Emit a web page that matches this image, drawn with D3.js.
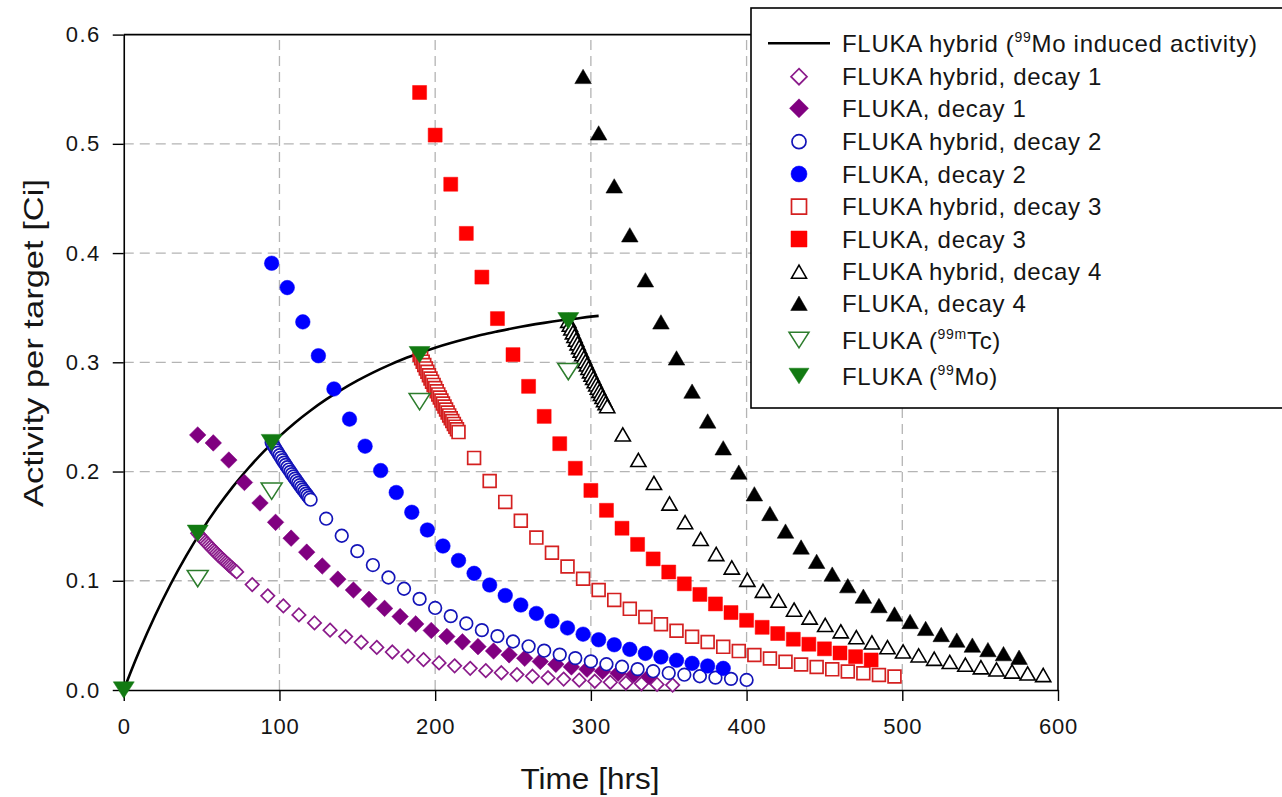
<!DOCTYPE html>
<html>
<head>
<meta charset="utf-8">
<script src="https://cdn.jsdelivr.net/npm/d3@7"></script>
<style>
  body { margin: 0; background: #fff; }
  svg { display: block; }
  text { font-family: "Liberation Sans", Arial, sans-serif; fill: #151515; }
</style>
</head>
<body>
<svg id="chart" width="1282" height="797"></svg>
<script>
// ---- Data: time [hrs] and activity per target [Ci] ----

// 99Mo induced activity during irradiation (FLUKA hybrid)
const buildupTime = [0, 5, 10, 20, 30, 40, 50, 60, 70, 80, 90, 100, 110, 120, 130, 140, 150, 160, 170, 180, 190, 200, 210, 220, 230, 240, 250, 260, 270, 280, 290, 300, 305];
const buildupActivity = [0, 0.0183, 0.0356, 0.0677, 0.0966, 0.1226, 0.1459, 0.1670, 0.1860, 0.2030, 0.2184, 0.2322, 0.2447, 0.2559, 0.2660, 0.2750, 0.2832, 0.2906, 0.2972, 0.3032, 0.3085, 0.3134, 0.3177, 0.3216, 0.3252, 0.3283, 0.3312, 0.3338, 0.3361, 0.3382, 0.3400, 0.3418, 0.3425];

// FLUKA hybrid, decay 1
const hybrid1Time = [47.5, 48.5, 49.5, 50.5, 51.5, 52.5, 53.5, 54.5, 55.5, 56.5, 57.5, 58.5, 59.5, 60.5, 61.5, 62.5, 63.5, 64.5, 65.5, 66.5, 67.5, 68.5, 69.5, 70.5, 71.5, 72.5,
  82.5, 92.5, 102.5, 112.5, 122.5, 132.5, 142.5, 152.5, 162.5, 172.5, 182.5, 192.5, 202.5, 212.5, 222.5, 232.5, 242.5, 252.5, 262.5, 272.5, 282.5, 292.5, 302.5, 312.5, 322.5, 332.5, 342.5, 352.5];
const hybrid1Activity = [0.1435, 0.1419, 0.1403, 0.1387, 0.1371, 0.1356, 0.1341, 0.1326, 0.1311, 0.1296, 0.1281, 0.1267, 0.1253, 0.1238, 0.1224, 0.1211, 0.1197, 0.1184, 0.1170, 0.1157, 0.1144, 0.1131, 0.1118, 0.1106, 0.1093, 0.1081,
  0.0965, 0.0862, 0.0770, 0.0687, 0.0614, 0.0548, 0.0489, 0.0437, 0.0390, 0.0348, 0.0311, 0.0278, 0.0248, 0.0221, 0.0198, 0.0177, 0.0158, 0.0141, 0.0126, 0.0112, 0.0100, 0.0090, 0.0080, 0.0071, 0.0064, 0.0057, 0.0051, 0.0045];

// FLUKA, decay 1
const fluka1Time = [47.5, 57.5, 67.5, 77.5, 87.5, 97.5, 107.5, 117.5, 127.5, 137.5, 147.5, 157.5, 167.5, 177.5, 187.5, 197.5, 207.5, 217.5, 227.5, 237.5, 247.5, 257.5, 267.5, 277.5, 287.5, 297.5, 307.5, 317.5, 327.5, 337.5];
const fluka1Activity = [0.2335, 0.2262, 0.2105, 0.1900, 0.1712, 0.1535, 0.1390, 0.1262, 0.1135, 0.1015, 0.0915, 0.0830, 0.0747, 0.0672, 0.0605, 0.0545, 0.0490, 0.0441, 0.0397, 0.0357, 0.0322, 0.0290, 0.0261, 0.0235, 0.0211, 0.0190, 0.0171, 0.0154, 0.0139, 0.0125];

// FLUKA hybrid, decay 2
const hybrid2Time = [95, 96, 97, 98, 99, 100, 101, 102, 103, 104, 105, 106, 107, 108, 109, 110, 111, 112, 113, 114, 115, 116, 117, 118, 119, 120,
  130, 140, 150, 160, 170, 180, 190, 200, 210, 220, 230, 240, 250, 260, 270, 280, 290, 300, 310, 320, 330, 340, 350, 360, 370, 380, 390, 400];
const hybrid2Activity = [0.2265, 0.2241, 0.2218, 0.2195, 0.2172, 0.2149, 0.2127, 0.2104, 0.2082, 0.2061, 0.2039, 0.2018, 0.1997, 0.1976, 0.1955, 0.1935, 0.1915, 0.1895, 0.1875, 0.1855, 0.1836, 0.1817, 0.1798, 0.1779, 0.1760, 0.1742,
  0.1568, 0.1412, 0.1271, 0.1144, 0.1030, 0.0927, 0.0834, 0.0751, 0.0676, 0.0609, 0.0548, 0.0493, 0.0444, 0.0400, 0.0360, 0.0324, 0.0292, 0.0262, 0.0236, 0.0213, 0.0191, 0.0172, 0.0155, 0.0140, 0.0126, 0.0113, 0.0102, 0.0092];

// FLUKA, decay 2
const fluka2Time = [95, 105, 115, 125, 135, 145, 155, 165, 175, 185, 195, 205, 215, 225, 235, 245, 255, 265, 275, 285, 295, 305, 315, 325, 335, 345, 355, 365, 375, 385];
const fluka2Activity = [0.3907, 0.3684, 0.3370, 0.3060, 0.2756, 0.2480, 0.2232, 0.2009, 0.1808, 0.1627, 0.1465, 0.1318, 0.1186, 0.1068, 0.0961, 0.0865, 0.0778, 0.0701, 0.0631, 0.0568, 0.0511, 0.0460, 0.0414, 0.0372, 0.0335, 0.0302, 0.0272, 0.0244, 0.0220, 0.0198];

// FLUKA hybrid, decay 3
const hybrid3Time = [190, 191, 192, 193, 194, 195, 196, 197, 198, 199, 200, 201, 202, 203, 204, 205, 206, 207, 208, 209, 210, 211, 212, 213, 214, 215,
  225, 235, 245, 255, 265, 275, 285, 295, 305, 315, 325, 335, 345, 355, 365, 375, 385, 395, 405, 415, 425, 435, 445, 455, 465, 475, 485, 495];
const hybrid3Activity = [0.3070, 0.3038, 0.3006, 0.2975, 0.2944, 0.2913, 0.2882, 0.2852, 0.2823, 0.2793, 0.2764, 0.2735, 0.2706, 0.2678, 0.2650, 0.2622, 0.2595, 0.2568, 0.2541, 0.2514, 0.2488, 0.2462, 0.2436, 0.2411, 0.2386, 0.2361,
  0.2125, 0.1913, 0.1722, 0.1550, 0.1395, 0.1256, 0.1131, 0.1018, 0.0916, 0.0825, 0.0743, 0.0668, 0.0602, 0.0542, 0.0488, 0.0439, 0.0395, 0.0356, 0.0320, 0.0288, 0.0259, 0.0233, 0.0210, 0.0189, 0.0170, 0.0153, 0.0138, 0.0124];

// FLUKA, decay 3
const fluka3Time = [190, 200, 210, 220, 230, 240, 250, 260, 270, 280, 290, 300, 310, 320, 330, 340, 350, 360, 370, 380, 390, 400, 410, 420, 430, 440, 450, 460, 470, 480];
const fluka3Activity = [0.547, 0.508, 0.463, 0.418, 0.378, 0.340, 0.307, 0.278, 0.2505, 0.2255, 0.2030, 0.1827, 0.1645, 0.1481, 0.1333, 0.1200, 0.1080, 0.0972, 0.0875, 0.0788, 0.0709, 0.0638, 0.0574, 0.0517, 0.0465, 0.0419, 0.0377, 0.0339, 0.0305, 0.0275];

// FLUKA hybrid, decay 4
const hybrid4Time = [285.5, 286.5, 287.5, 288.5, 289.5, 290.5, 291.5, 292.5, 293.5, 294.5, 295.5, 296.5, 297.5, 298.5, 299.5, 300.5, 301.5, 302.5, 303.5, 304.5, 305.5, 306.5, 307.5, 308.5, 309.5, 310.5,
  320.5, 330.5, 340.5, 350.5, 360.5, 370.5, 380.5, 390.5, 400.5, 410.5, 420.5, 430.5, 440.5, 450.5, 460.5, 470.5, 480.5, 490.5, 500.5, 510.5, 520.5, 530.5, 540.5, 550.5, 560.5, 570.5, 580.5, 590.5];
const hybrid4Activity = [0.3380, 0.3345, 0.3310, 0.3275, 0.3241, 0.3207, 0.3174, 0.3140, 0.3108, 0.3075, 0.3043, 0.3011, 0.2980, 0.2949, 0.2918, 0.2887, 0.2857, 0.2827, 0.2798, 0.2768, 0.2739, 0.2711, 0.2683, 0.2654, 0.2627, 0.2599,
  0.2340, 0.2106, 0.1896, 0.1707, 0.1537, 0.1383, 0.1245, 0.1121, 0.1009, 0.0908, 0.0818, 0.0736, 0.0663, 0.0596, 0.0537, 0.0483, 0.0435, 0.0392, 0.0353, 0.0317, 0.0286, 0.0257, 0.0232, 0.0208, 0.0188, 0.0169, 0.0152, 0.0137];

// FLUKA, decay 4
const fluka4Time = [295, 305, 315, 325, 335, 345, 355, 365, 375, 385, 395, 405, 415, 425, 435, 445, 455, 465, 475, 485, 495, 505, 515, 525, 535, 545, 555, 565, 575];
const fluka4Activity = [0.5617, 0.5100, 0.4615, 0.4167, 0.3755, 0.3370, 0.3040, 0.2736, 0.2463, 0.2217, 0.1995, 0.1796, 0.1616, 0.1455, 0.1309, 0.1178, 0.1061, 0.0955, 0.0859, 0.0773, 0.0696, 0.0627, 0.0564, 0.0508, 0.0457, 0.0411, 0.0370, 0.0333, 0.0300];

// FLUKA (99mTc) and FLUKA (99Mo) at end of irradiation
const tcTime = [47.5, 95, 190, 285.5];
const tcActivity = [0.102, 0.182, 0.264, 0.2915];
const moTime = [0, 47.5, 95, 190, 285.5];
const moActivity = [0, 0.1435, 0.2265, 0.307, 0.338];

// Axis ticks
const xTicks = [0, 100, 200, 300, 400, 500, 600];
const yTicks = [0, 0.1, 0.2, 0.3, 0.4, 0.5, 0.6];

// ---- Chart ----
const svg = d3.select("#chart");
const x = d3.scaleLinear().domain([0, 600]).range([123.75, 1058]);
const y = d3.scaleLinear().domain([0, 0.6]).range([690, 34.6]);

// Marker path builders (centred on 0,0)
const shapes = {
  diamond: r => `M0,${-r}L${r},0L0,${r}L${-r},0Z`,
  square: r => `M${-r},${-r}H${r}V${r}H${-r}Z`,
  circle: r => `M${r},0A${r},${r} 0 1,1 ${-r},0A${r},${r} 0 1,1 ${r},0Z`,
  triUp: r => { const h = r * 1.732 * 0.5; return `M0,${-h}L${r},${h}L${-r},${h}Z`; },
  triDown: r => { const h = r * 1.732 * 0.45; return `M0,${h}L${r},${-h}L${-r},${-h}Z`; }
};

const zip = (t, a) => t.map((d, i) => ({ t: d, a: a[i] }));

const series = [
  { name: "hybrid1", data: zip(hybrid1Time, hybrid1Activity), shape: "diamond", r: 6.7, fill: "#fff", stroke: "#8a1a8a", sw: 1.7, lr: 8 },
  { name: "fluka1", data: zip(fluka1Time, fluka1Activity), shape: "diamond", r: 8.3, fill: "#800080", stroke: "#800080", sw: 0.5, lr: 9.5 },
  { name: "hybrid2", data: zip(hybrid2Time, hybrid2Activity), shape: "circle", r: 6.3, fill: "#fff", stroke: "#1414b8", sw: 1.7, lr: 7 },
  { name: "fluka2", data: zip(fluka2Time, fluka2Activity), shape: "circle", r: 7.3, fill: "#0000ff", stroke: "#0000ff", sw: 0.5, lr: 8 },
  { name: "hybrid3", data: zip(hybrid3Time, hybrid3Activity), shape: "square", r: 6.4, fill: "#fff", stroke: "#d42020", sw: 1.7, lr: 7.5 },
  { name: "fluka3", data: zip(fluka3Time, fluka3Activity), shape: "square", r: 7, fill: "#ff0000", stroke: "#ff0000", sw: 0.5, lr: 8 },
  { name: "hybrid4", data: zip(hybrid4Time, hybrid4Activity), shape: "triUp", r: 7.6, fill: "#fff", stroke: "#000", sw: 1.6, lr: 7.5 },
  { name: "fluka4", data: zip(fluka4Time, fluka4Activity), shape: "triUp", r: 8.3, fill: "#000", stroke: "#000", sw: 0.5, lr: 8.3 },
  { name: "tc", data: zip(tcTime, tcActivity), shape: "triDown", r: 10.5, fill: "#fff", stroke: "#2d7d2d", sw: 1.5, lr: 10 },
  { name: "mo", data: zip(moTime, moActivity), shape: "triDown", r: 10.5, fill: "#127a12", stroke: "#127a12", sw: 0.5, lr: 10 }
];

// Gridlines
const grid = svg.append("g").attr("stroke", "#b4b4b4").attr("stroke-width", 1.3).attr("stroke-dasharray", "10,6");
grid.selectAll("line.gx").data(xTicks.slice(1, -1)).join("line")
  .attr("x1", d => x(d)).attr("x2", d => x(d)).attr("y1", y(0)).attr("y2", y(0.6));
grid.selectAll("line.gy").data(yTicks.slice(1, -1)).join("line")
  .attr("x1", x(0)).attr("x2", x(600)).attr("y1", d => y(d)).attr("y2", d => y(d));

// Plot frame (top and right)
svg.append("path")
  .attr("d", `M${x(0)},${y(0.6)}H${x(600)}V${y(0)}`)
  .attr("fill", "none").attr("stroke", "#000").attr("stroke-width", 1.6);

// Axes
const xAxis = svg.append("g").attr("transform", `translate(0,${y(0)})`)
  .call(d3.axisBottom(x).tickValues(xTicks).tickFormat(d3.format("d")).tickSize(11).tickSizeOuter(0).tickPadding(17));
const yAxis = svg.append("g").attr("transform", `translate(${x(0)},0)`)
  .call(d3.axisLeft(y).tickValues(yTicks).tickFormat(d3.format(".1f")).tickSize(11).tickSizeOuter(0).tickPadding(12));
[xAxis, yAxis].forEach(g => {
  g.select(".domain").attr("stroke", "#000").attr("stroke-width", 1.6);
  g.selectAll(".tick line").attr("stroke", "#000").attr("stroke-width", 1.4);
  g.selectAll(".tick text").attr("font-size", 22).attr("fill", "#1e1e1e")
    .style("font-family", '"Liberation Sans", Arial, sans-serif');
});
yAxis.selectAll(".tick text").attr("letter-spacing", 1.5);
xAxis.selectAll(".tick text").attr("letter-spacing", 0.8);

// Axis titles
svg.append("text").attr("x", 590).attr("y", 789).attr("text-anchor", "middle")
  .attr("font-size", 30).attr("textLength", 139).attr("lengthAdjust", "spacingAndGlyphs")
  .attr("fill", "#1e1e1e").text("Time [hrs]");
svg.append("text").attr("transform", "translate(43,343) rotate(-90)").attr("text-anchor", "middle")
  .attr("font-size", 28).attr("textLength", 328).attr("lengthAdjust", "spacingAndGlyphs")
  .attr("fill", "#1e1e1e").text("Activity per target [Ci]");

// Build-up curve
svg.append("path")
  .datum(zip(buildupTime, buildupActivity))
  .attr("fill", "none").attr("stroke", "#000").attr("stroke-width", 2.6)
  .attr("d", d3.line().x(d => x(d.t)).y(d => y(d.a)).curve(d3.curveMonotoneX));

// Markers
series.forEach(s => {
  svg.append("g").attr("class", s.name).selectAll("path").data(s.data).join("path")
    .attr("transform", d => `translate(${x(d.t)},${y(d.a)})`)
    .attr("d", shapes[s.shape](s.r))
    .attr("fill", s.fill).attr("stroke", s.stroke).attr("stroke-width", s.sw);
});

// Legend
const legend = svg.append("g");
legend.append("rect").attr("x", 751).attr("y", 8).attr("width", 600).attr("height", 400)
  .attr("fill", "#fff").attr("stroke", "#000").attr("stroke-width", 1.6);

const legendRows = [43.3, 76.7, 108.3, 141.7, 174, 206.7, 239, 271.7, 303.3, 340, 376];
const legendLabels = [
  ["FLUKA hybrid (", "99", "Mo induced activity)"],
  ["FLUKA hybrid, decay 1"],
  ["FLUKA, decay 1"],
  ["FLUKA hybrid, decay 2"],
  ["FLUKA, decay 2"],
  ["FLUKA hybrid, decay 3"],
  ["FLUKA, decay 3"],
  ["FLUKA hybrid, decay 4"],
  ["FLUKA, decay 4"],
  ["FLUKA (", "99m", "Tc)"],
  ["FLUKA (", "99", "Mo)"]
];

legend.append("line").attr("x1", 768).attr("x2", 830)
  .attr("y1", legendRows[0]).attr("y2", legendRows[0])
  .attr("stroke", "#000").attr("stroke-width", 2.6);

series.forEach((s, i) => {
  legend.append("path")
    .attr("transform", `translate(799,${legendRows[i + 1]})`)
    .attr("d", shapes[s.shape](s.lr))
    .attr("fill", s.fill).attr("stroke", s.stroke).attr("stroke-width", s.sw);
});

legendLabels.forEach((parts, i) => {
  const t = legend.append("text").attr("x", 842).attr("y", legendRows[i] + 8.5)
    .attr("font-size", 24).attr("letter-spacing", 0.7);
  if (parts.length === 1) {
    t.text(parts[0]);
  } else {
    t.append("tspan").text(parts[0]);
    t.append("tspan").attr("font-size", 14).attr("dy", -10).text(parts[1]);
    t.append("tspan").attr("dy", 10).text(parts[2]);
  }
});
</script>
</body>
</html>
